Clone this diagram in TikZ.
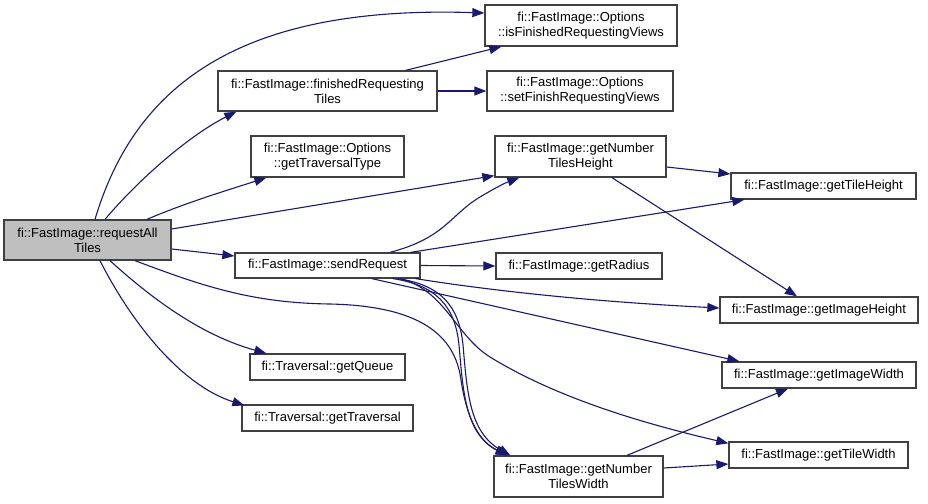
\documentclass[tikz,border=0pt]{standalone}
\usepackage{fontspec}
\setmainfont{Liberation Sans}
\usetikzlibrary{arrows.meta}
\definecolor{edgeblue}{HTML}{191970}
\definecolor{boxgray}{HTML}{404040}
\definecolor{hifill}{HTML}{BFBFBF}
\begin{document}
\begin{tikzpicture}[x=1pt,y=-1pt,
  fn/.style={draw=boxgray,line width=1.3pt,rectangle,inner sep=0pt,align=center,
    font=\fontsize{13}{15}\selectfont,text=black},
  e/.style={draw=edgeblue,line width=1.1pt,-{Triangle[length=12pt,width=9pt]},edgeblue}]
\useasboundingbox (0,0) rectangle (928,503);
% nodes
\node[fn,fill=hifill,minimum width=167pt,minimum height=40pt] (r) at (87.5,240) {fi::FastImage::requestAll\\Tiles};
\node[fn,minimum width=219pt,minimum height=40pt] (fin) at (327.5,91) {fi::FastImage::finishedRequesting\\Tiles};
\node[fn,minimum width=153pt,minimum height=41pt] (tt) at (327.5,156.5) {fi::FastImage::Options\\::getTraversalType};
\node[fn,minimum width=185pt,minimum height=25pt] (sr) at (327.5,265.5) {fi::FastImage::sendRequest};
\node[fn,minimum width=155pt,minimum height=26pt] (q) at (327.5,367) {fi::Traversal::getQueue};
\node[fn,minimum width=171pt,minimum height=26pt] (trv) at (327.5,418) {fi::Traversal::getTraversal};
\node[fn,minimum width=192pt,minimum height=41pt] (isfin) at (581,25.5) {fi::FastImage::Options\\::isFinishedRequestingViews};
\node[fn,minimum width=186pt,minimum height=40pt] (set) at (580,91) {fi::FastImage::Options\\::setFinishRequestingViews};
\node[fn,minimum width=171pt,minimum height=41pt] (nth) at (580.5,156.5) {fi::FastImage::getNumber\\TilesHeight};
\node[fn,minimum width=166pt,minimum height=26pt] (rad) at (579,266) {fi::FastImage::getRadius};
\node[fn,minimum width=169pt,minimum height=41pt] (ntw) at (578.5,476.5) {fi::FastImage::getNumber\\TilesWidth};
\node[fn,minimum width=185pt,minimum height=26pt] (th) at (823.5,186) {fi::FastImage::getTileHeight};
\node[fn,minimum width=198pt,minimum height=26pt] (ih) at (819,310) {fi::FastImage::getImageHeight};
\node[fn,minimum width=194pt,minimum height=26pt] (iw) at (819,375) {fi::FastImage::getImageWidth};
\node[fn,minimum width=179pt,minimum height=26pt] (tw) at (818.5,455) {fi::FastImage::getTileWidth};
% edges from requestAllTiles
\draw[e] ([xshift=7.5pt]r.north) .. controls (135,85) and (240,5) .. ([yshift=12.5pt]isfin.west);
\draw[e] ([xshift=17.5pt]r.north) .. controls (140,178) and (190,135) .. ([xshift=19pt]fin.south west);
\draw[e] ([xshift=59.5pt]r.north) .. controls (185,203) and (225,191) .. ([xshift=16pt]tt.south west);
\draw[e] ([yshift=11pt]r.east) -- ([yshift=2pt]nth.south west);
\draw[e] ([yshift=-9pt]r.east) -- ([yshift=9.5pt]sr.west);
\draw[e] ([xshift=47.5pt]r.south) .. controls (200,285) and (250,303) .. (330,304)
   .. controls (420,306) and (455,335) .. (461,380)
   .. controls (467,420) and (480,442) .. ([xshift=14pt]ntw.north west);
\draw[e] ([xshift=22.5pt]r.south) .. controls (150,297) and (200,335) .. ([xshift=17pt]q.north west);
\draw[e] ([xshift=12.5pt]r.south) .. controls (130,320) and (180,385) .. ([xshift=3pt,yshift=-1pt]trv.north west);
% finishedRequestingTiles
\draw[e] ([xshift=-32pt]fin.north east) -- ([xshift=17pt]isfin.south west);
\draw[e] (fin.east) -- (set.west);
% sendRequest
\draw[e] ([xshift=62.5pt]sr.north) .. controls (445,238) and (450,215) .. (480,197)
   .. controls (495,188) and (505,183) .. ([xshift=25pt]nth.south west);
\draw[e] ([xshift=-10pt]sr.north east) -- ([xshift=14pt]th.south west);
\draw[e] (sr.east) -- (rad.west);
\draw[e] ([xshift=-5pt]sr.south east) .. controls (500,292) and (600,302) .. ([yshift=2pt]ih.west);
\draw[e] ([xshift=44.5pt]sr.south) -- ([xshift=18pt]iw.north west);
\draw[e] ([xshift=72.5pt]sr.south) .. controls (445,290) and (455,335) .. (490,357)
   .. controls (560,400) and (650,425) .. ([yshift=-2pt]tw.north west);
\draw[e] ([xshift=65.5pt]sr.south) .. controls (435,285) and (455,305) .. (459,345)
   .. controls (463,390) and (465,435) .. ([xshift=15pt]ntw.north west);
\draw[e] ([xshift=70.5pt]sr.south) .. controls (440,285) and (459,305) .. (463,345)
   .. controls (467,390) and (469,432) .. ([xshift=17pt]ntw.north west);
% getNumberTilesHeight
\draw[e] ([yshift=-10.5pt]nth.east) -- ([yshift=12pt]th.west);
\draw[e] ([xshift=31.5pt]nth.south) -- ([xshift=-22pt]ih.north);
% getNumberTilesWidth
\draw[e] ([xshift=48.5pt]ntw.north) -- ([xshift=-31pt]iw.south);
\draw[e] ([yshift=8.5pt]ntw.east) -- ([yshift=-9pt]tw.west);
\end{tikzpicture}
\end{document}
